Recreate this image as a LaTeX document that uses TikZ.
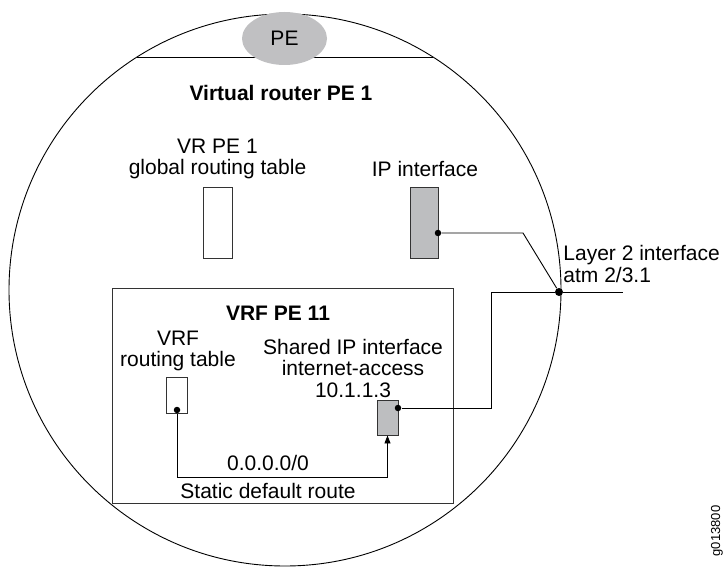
\documentclass[tikz,border=0pt]{standalone}
\usepackage{fontspec}
\setmainfont{Liberation Sans}
\usepackage{tikz}
\usetikzlibrary{shapes.geometric,arrows.meta}
\definecolor{ifgray}{RGB}{189,190,192}
\definecolor{pegray}{RGB}{192,192,194}

\begin{document}
\begin{tikzpicture}[x=1pt,y=-1pt,line width=0.9pt,
  every node/.style={font=\fontsize{21}{21.5}\selectfont,align=center,inner sep=0pt},
  tbl/.style={draw=black!80,fill=white},
  iface/.style={draw=black!80,fill=ifgray},
  dot/.style={circle,fill=black,inner sep=0pt,minimum size=6.5pt}]
\useasboundingbox (0,0) rectangle (723,567);
\draw (285,290) circle[radius=276pt];
\draw (137,57) -- (433,57);
\node[ellipse,fill=pegray,minimum width=85pt,minimum height=53pt] (pe) at (284.5,38.5) {PE};
\node[font=\fontsize{21}{21.5}\selectfont\bfseries] (vrtitle) at (281,93) {Virtual router PE 1};
\node (gtlabel) at (217.5,159) {VR PE 1\\global routing table};
\node (iplabel) at (425,169) {IP interface};
\node[tbl,minimum width=29pt,minimum height=71pt] (gtable) at (217.5,222.5) {};
\node[iface,minimum width=28pt,minimum height=71pt] (ipif) at (424,222.5) {};
\draw[draw=black!80] (112,288) rectangle (453,503);
\node[font=\fontsize{21}{21.5}\selectfont\bfseries] (vrftitle) at (278,313) {VRF PE 11};
\node (vrflabel) at (178,351) {VRF\\routing table};
\node (siplabel) at (353,368) {Shared IP interface\\internet-access\\10.1.1.3};
\node[tbl,minimum width=21pt,minimum height=36pt] (vrftable) at (176.5,395) {};
\node[iface,minimum width=21pt,minimum height=35pt] (sip) at (387.5,417.5) {};
\node[dot] (ipdot) at (438,233) {};
\node[dot,minimum size=8pt] (l2) at (559,292) {};
\node[dot] (sipdot) at (398,408) {};
\node[dot] (vrfdot) at (177,410) {};
\coordinate (l2end) at (623,292);
\draw (ipdot) -- (523,233) -- (l2);
\draw (l2) -- (l2end);
\draw (l2) -- (491,292) |- (sipdot);
\draw[-{Triangle[length=8pt,width=6pt]}] (vrfdot) -- (177,477) -| (sip.south);
\node (route) at (268,463) {0.0.0.0/0};
\node (static) at (268,491) {Static default route};
\node[anchor=west,align=left] (l2label) at (563,264) {Layer 2 interface\\atm 2/3.1};
\node[font=\fontsize{13}{13}\selectfont,rotate=90] (fig) at (717,531) {g013800};
\end{tikzpicture}
\end{document}
